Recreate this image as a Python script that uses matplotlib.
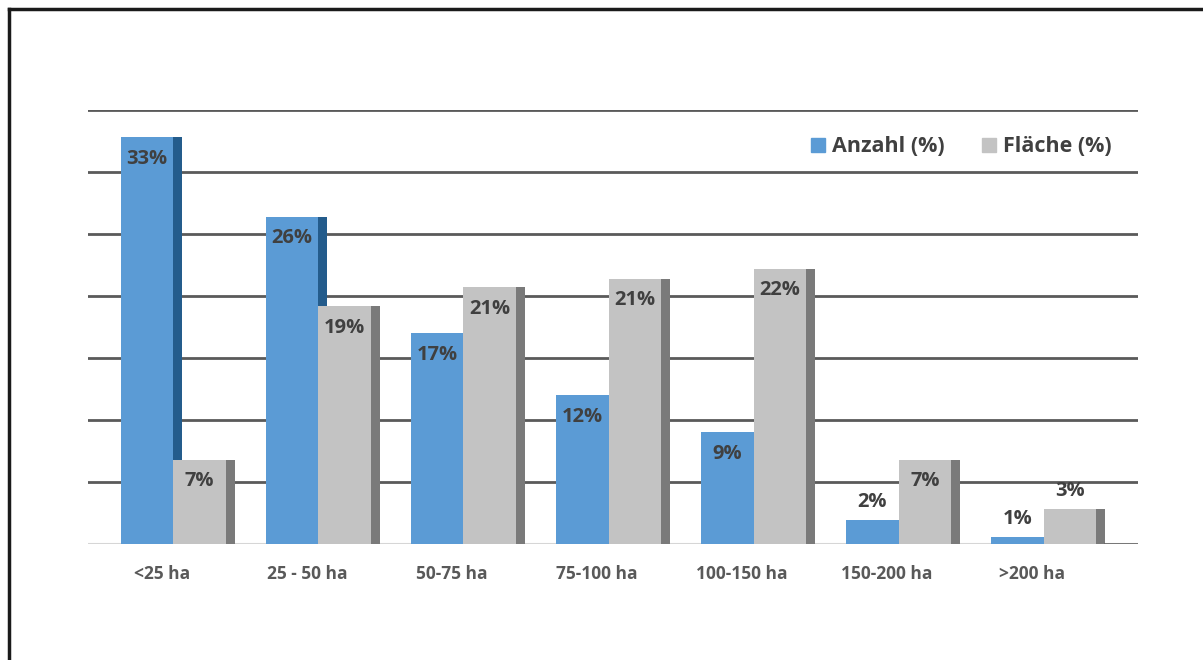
import matplotlib
matplotlib.use("Agg")
import matplotlib.pyplot as plt
from matplotlib.patches import Rectangle
from matplotlib.lines import Line2D
import numpy as np

# data (percent)
categories = ["<25 ha", "25 - 50 ha", "50-75 ha", "75-100 ha", "100-150 ha", "150-200 ha", ">200 ha"]
anzahl = [32.8, 26.4, 17.0, 12.0, 9.0, 1.9, 0.6]
flaeche = [6.8, 19.2, 20.7, 21.4, 22.2, 6.8, 2.8]
anzahl_labels = ["33%", "26%", "17%", "12%", "9%", "2%", "1%"]
flaeche_labels = ["7%", "19%", "21%", "21%", "22%", "7%", "3%"]

blue, blue_side = "#5B9BD5", "#245C8C"
grey, grey_side = "#C3C3C3", "#7A7A7A"
txt = "#404040"

plt.rcParams['font.family'] = ['Open Sans', 'DejaVu Sans']

fig = plt.figure(figsize=(12.03, 6.6), dpi=100)
ax = fig.add_axes([88/1203, 1 - 544/660, 1050/1203, 434/660])

x = np.arange(len(categories))
w = 0.36      # front face width
side = 0.062  # dark side face width
off_b = -0.28
off_g = off_b + w

# gridlines every 5 %
for yv in range(5, 40, 5):
    ax.axhline(yv, color="#5A5A5A", lw=2.0, zorder=1)
ax.axhline(0, color="#D6D6D6", lw=1.5, zorder=1)

ax.bar(x + off_b, anzahl, width=w, align="edge", color=blue, zorder=2)
ax.bar(x + off_b + w, anzahl, width=side, align="edge", color=blue_side, zorder=2)
ax.bar(x + off_g, flaeche, width=w, align="edge", color=grey, zorder=3)
ax.bar(x + off_g + w, flaeche, width=side, align="edge", color=grey_side, zorder=3)

# dark floor line after the last bar
last = x[-1] + off_g + w + side
ax.plot([last, 6.73], [0, 0], color="#5A5A5A", lw=1.8, zorder=4)

def put(xs, vals, labs):
    for xi, v, lab in zip(xs, vals, labs):
        if v >= 5:
            yy = v - 1.75
        else:
            yy = v + 1.45
        ax.text(xi, yy, lab, ha="center", va="center", fontsize=14.5,
                fontweight="bold", color=txt, zorder=5)

put(x + off_b + w / 2, anzahl, anzahl_labels)
put(x + off_g + w / 2, flaeche, flaeche_labels)

ax.set_xlim(-0.508, 6.73)
ax.set_ylim(0, 35)
ax.set_xticks(x)
ax.set_xticklabels(categories, fontsize=12.5, fontweight="bold", color="#595959")
ax.tick_params(axis="x", length=0, pad=15)
ax.set_yticks([])
for s in ax.spines.values():
    s.set_visible(False)

handles = [Rectangle((0, 0), 1, 1, color=blue), Rectangle((0, 0), 1, 1, color=grey)]
leg = ax.legend(handles, ["Anzahl (%)", "Fläche (%)"], loc="center right",
                bbox_to_anchor=(0.9935, 0.915), ncol=2, frameon=False,
                handlelength=0.65, handleheight=0.65, handletextpad=0.35,
                columnspacing=1.7, prop={"size": 15.5, "weight": "bold"})
for t in leg.get_texts():
    t.set_color(txt)

# frame of the picture (only top and left edges visible)
fig.add_artist(Line2D([9/1203, 1], [1 - 9/660, 1 - 9/660], color="#1A1A1A", lw=2.5))
fig.add_artist(Line2D([9/1203, 9/1203], [0, 1 - 9/660], color="#1A1A1A", lw=2.5))

fig.savefig("out.png", dpi=100)
